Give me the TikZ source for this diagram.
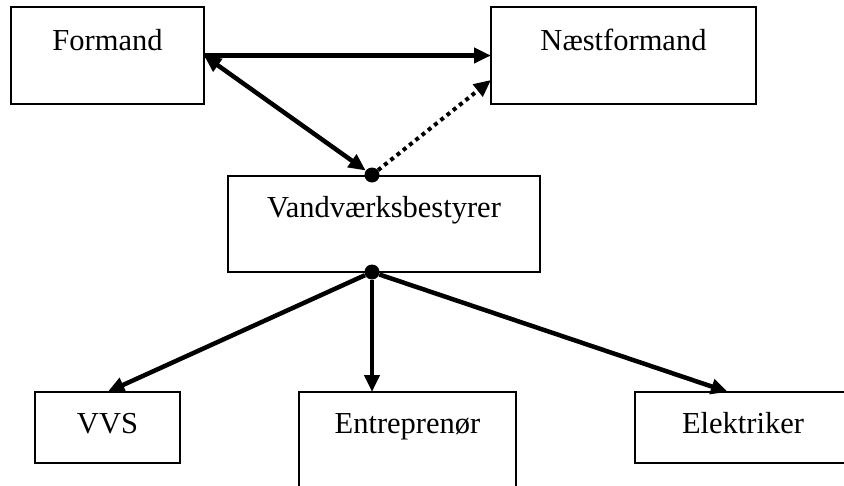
\documentclass[tikz,border=0pt]{standalone}
\usepackage{fontspec}
\setmainfont{Liberation Serif}
\usetikzlibrary{arrows.meta}
\begin{document}
\begin{tikzpicture}[x=1pt,y=-1pt,
  box/.style={draw, line width=2pt, rectangle, inner sep=0pt, outer sep=0pt, anchor=north west},
  lbl/.style={anchor=base, inner sep=0pt, font=\fontsize{30.5}{36}\selectfont},
  conn/.style={line width=4.5pt, -{Triangle[length=17pt,width=15pt]}},
  joint/.style={circle, fill, inner sep=0pt, minimum size=15pt}]
\useasboundingbox (0,0) rectangle (844,485);
% boxes
\node[box, minimum width=193pt, minimum height=97pt] (formand) at (11,7) {};
\node[box, minimum width=265pt, minimum height=97pt] (nf) at (491,7) {};
\node[box, minimum width=312pt, minimum height=96pt] (vb) at (228,176) {};
\node[box, minimum width=145pt, minimum height=71pt] (vvs) at (35,392) {};
\node[box, minimum width=217pt, minimum height=120pt] (ent) at (299,392) {};
\node[box, minimum width=240pt, minimum height=71pt] (elek) at (635,392) {};
% labels
\node[lbl] (tformand) at (107.5,50) {Formand};
\node[lbl] (tnf) at (623.5,50) {Næstformand};
\node[lbl] (tvb) at (384,217) {Vandværksbestyrer};
\node[lbl] (tvvs) at (107.5,433) {VVS};
\node[lbl] (tent) at (407.5,433) {Entreprenør};
\node[lbl] (telek) at (743,433) {Elektriker};
% joints
\node[joint] (d1) at (372,175) {};
\node[joint] (d2) at (372,272) {};
\coordinate (nfin) at ([yshift=-24.5pt]nf.west);
\coordinate (entin) at (d2 |- ent.north);
\coordinate (elekin) at ([xshift=93pt]elek.north west);
% connectors
\draw[conn] (formand.east) -- (nf.west);
\draw[conn, {Triangle[length=17pt,width=15pt]}-{Triangle[length=17pt,width=15pt]}] (formand.east) -- (d1);
\draw[conn, line width=4pt, dash pattern=on 4pt off 4pt] (d1) -- (nfin);
\draw[conn] (d2) -- (vvs.north);
\draw[conn] (d2) -- (entin);
\draw[conn] (d2) -- (elekin);
\end{tikzpicture}
\end{document}
